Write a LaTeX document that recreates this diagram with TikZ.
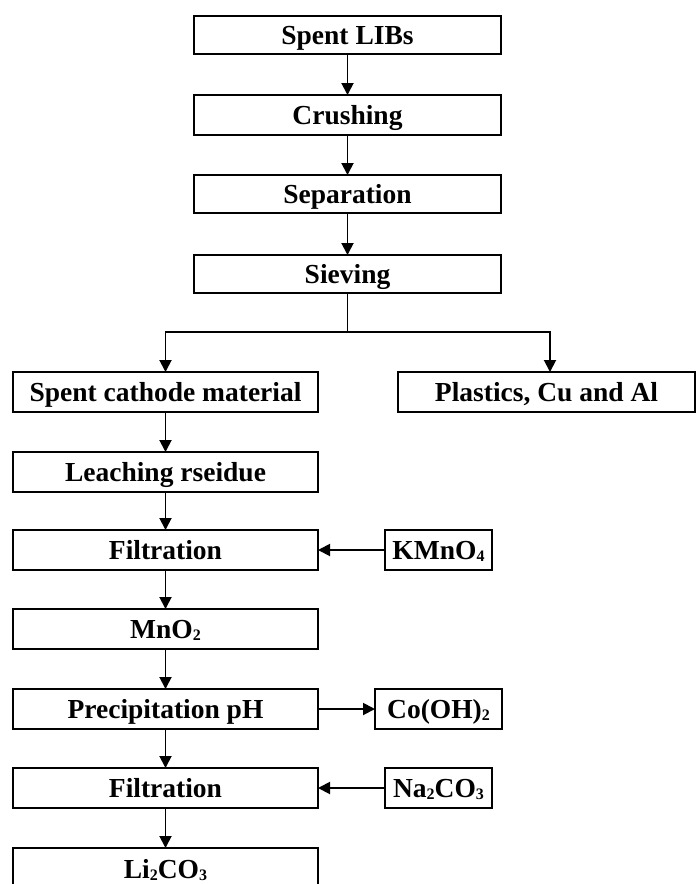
\documentclass[tikz,border=0pt]{standalone}
\usepackage{fontspec}
\setmainfont{Liberation Serif}
\usetikzlibrary{arrows.meta}
\newcommand\sbs[1]{\raisebox{-0.2ex}{\fontsize{16}{16}\selectfont #1}}
\tikzset{
  box/.style={draw, line width=1.8pt, rectangle, inner sep=0pt, outer sep=0pt,
    text height=18pt, text depth=0pt,
    font=\fontsize{27.5}{30}\selectfont\bfseries},
  arr/.style={line width=1.9pt, -{Triangle[length=12pt,width=12pt]}},
  ln/.style={line width=1.9pt}
}
\begin{document}
\begin{tikzpicture}[x=1pt,y=-1pt]
\useasboundingbox (0,0) rectangle (696,884);
% main column top
\node[box, minimum width=307pt, minimum height=38pt] (lib) at (347.5,35) {Spent LIBs};
\node[box, minimum width=307pt, minimum height=40pt] (cru) at (347.5,115) {Crushing};
\node[box, minimum width=307pt, minimum height=38pt] (sep) at (347.5,194) {Separation};
\node[box, minimum width=307pt, minimum height=38pt] (sie) at (347.5,274) {Sieving};
% branches
\node[box, minimum width=305pt, minimum height=40pt] (cat) at (165.5,392) {Spent cathode material};
\node[box, minimum width=297pt, minimum height=40pt] (pla) at (546.5,392) {Plastics, Cu and Al};
% left column
\node[box, minimum width=305pt, minimum height=40pt] (lea) at (165.5,472) {Leaching rseidue};
\node[box, minimum width=305pt, minimum height=40pt] (fi1) at (165.5,550) {Filtration};
\node[box, minimum width=305pt, minimum height=40pt] (mno) at (165.5,629) {MnO\sbs{2}};
\node[box, minimum width=305pt, minimum height=40pt] (pre) at (165.5,709) {Precipitation pH};
\node[box, minimum width=305pt, minimum height=40pt] (fi2) at (165.5,788) {Filtration};
\node[box, minimum width=305pt, minimum height=42pt] (li) at (165.5,869) {Li\sbs{2}CO\sbs{3}};
% side boxes
\node[box, minimum width=107pt, minimum height=40pt] (kmn) at (438.5,550) {KMnO\sbs{4}};
\node[box, minimum width=127pt, minimum height=40pt] (coh) at (438.5,709) {Co(OH)\sbs{2}};
\node[box, minimum width=107pt, minimum height=40pt] (nac) at (438.5,788) {Na\sbs{2}CO\sbs{3}};
% connectors
\draw[arr] (lib) -- (cru);
\draw[arr] (cru) -- (sep);
\draw[arr] (sep) -- (sie);
\coordinate (br) at (347.5,332);
\coordinate (px) at (550,392);
\draw[ln] (sie.south) -- (br);
\draw[arr] (br) -| (cat.north);
\draw[arr] (br) -| (pla.north -| px);
\draw[arr] (cat) -- (lea);
\draw[arr] (lea) -- (fi1);
\draw[arr] (fi1) -- (mno);
\draw[arr] (mno) -- (pre);
\draw[arr] (pre) -- (fi2);
\draw[arr] (fi2) -- (li);
\draw[arr] (kmn) -- (fi1);
\draw[arr] (pre) -- (coh);
\draw[arr] (nac) -- (fi2);
\end{tikzpicture}
\end{document}
